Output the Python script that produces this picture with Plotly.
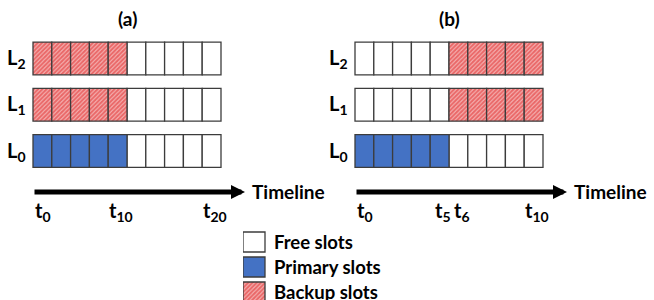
import plotly.graph_objects as go

# ---------------- data ----------------
levels = ["L0", "L1", "L2"]
level_labels = ["L<sub>0</sub>", "L<sub>1</sub>", "L<sub>2</sub>"]

# slot types per level, left to right (10 slots each)
a_L0 = ["primary"] * 5 + ["free"] * 5
a_L1 = ["backup"] * 5 + ["free"] * 5
a_L2 = ["backup"] * 5 + ["free"] * 5
b_L0 = ["primary"] * 5 + ["free"] * 5
b_L1 = ["free"] * 5 + ["backup"] * 5
b_L2 = ["free"] * 5 + ["backup"] * 5

a_slot_len = 2   # time units per slot, panel (a)
b_slot_len = 1   # time units per slot, panel (b)

a_ticks = [0, 10, 20]
a_ticktext = ["t<sub>0</sub>", "t<sub>10</sub>", "t<sub>20</sub>"]
b_ticks = [0, 5, 6, 10]
b_ticktext = ["t<sub>0</sub>", "t<sub>5</sub>", "t<sub>6</sub>", "t<sub>10</sub>"]

panel_titles = ["(a)", "(b)"]
legend_names = ["Free slots", "Primary slots", "Backup slots"]
legend_types = ["free", "primary", "backup"]

# ---------------- styles ----------------
FONT = "Lato"
EDGE = dict(color="#3c3c3c", width=1.3)
STYLE = {
    "free": dict(color="#ffffff"),
    "primary": dict(color="#4472C4"),
    "backup": dict(color="#f4b4b4",
                   pattern=dict(shape="/", fgcolor="#df1a1a", bgcolor="#f4b4b4",
                                size=3, solidity=0.65)),
}

fig = go.Figure()

W, H = 654, 300

def add_panel(rows, slot_len, xa, ya):
    for stype in ["free", "primary", "backup"]:
        ys, xs, bases = [], [], []
        for lv, row in zip(levels, rows):
            for i, s in enumerate(row):
                if s == stype:
                    ys.append(levels.index(lv))
                    xs.append(slot_len)
                    bases.append(i * slot_len)
        if ys:
            fig.add_trace(go.Bar(
                orientation="h", y=ys, x=xs, base=bases, width=0.71,
                marker=dict(**STYLE[stype], line=EDGE),
                xaxis=xa, yaxis=ya, showlegend=False, hoverinfo="skip"))

add_panel([a_L0, a_L1, a_L2], a_slot_len, "x", "y")
add_panel([b_L0, b_L1, b_L2], b_slot_len, "x2", "y2")

# legend swatches
for i, t in enumerate(legend_types):
    fig.add_trace(go.Bar(
        orientation="h", y=[i], x=[1], base=[0], width=0.8,
        marker=dict(**STYLE[t], line=EDGE),
        xaxis="x3", yaxis="y3", showlegend=False, hoverinfo="skip"))

# axes geometry: y value v -> pixel 151 - 46.25 v
yr = [-149 / 46.25, 151 / 46.25]
a_scale = 188 / (10 * a_slot_len)
b_scale = 188 / (10 * b_slot_len)
xa_range = [-33 / a_scale, (327 - 33) / a_scale]
xb_range = [-(355 - 327) / b_scale, (654 - 355) / b_scale]

hidden = dict(visible=False, showgrid=False, zeroline=False, fixedrange=True)
fig.update_layout(
    width=W, height=H, margin=dict(l=0, r=0, t=0, b=0),
    paper_bgcolor="white", plot_bgcolor="rgba(0,0,0,0)",
    barmode="overlay", showlegend=False,
    xaxis=dict(domain=[0, 327 / W], range=xa_range, anchor="y", **hidden),
    yaxis=dict(domain=[0, 1], range=yr, anchor="x", **hidden),
    xaxis2=dict(domain=[327 / W, 1], range=xb_range, anchor="y2", **hidden),
    yaxis2=dict(domain=[0, 1], range=yr, anchor="x2", **hidden),
    xaxis3=dict(domain=[243 / W, 463 / W], range=[0, 10], anchor="y3", **hidden),
    yaxis3=dict(domain=[0, 80 / H], range=[2.32, -0.88], anchor="x3", **hidden),
    font=dict(family=FONT, color="black"),
)

ann = []
bold = dict(family=FONT, weight="bold", color="black")
arrow_y = (151 - 192) / 46.25
tick_y = (151 - 211) / 46.25
title_y = (151 - 18) / 46.25

for xa, ya, scale, ticks, ttext, title in [
    ("x", "y", a_scale, a_ticks, a_ticktext, panel_titles[0]),
    ("x2", "y2", b_scale, b_ticks, b_ticktext, panel_titles[1]),
]:
    xmax = 188 / scale
    ann.append(dict(x=xmax / 2, y=title_y, xref=xa, yref=ya, text=title,
                    showarrow=False, font=dict(size=19, **bold)))
    for i, lab in enumerate(level_labels):
        ann.append(dict(x=0, y=i, xref=xa, yref=ya, text=lab, showarrow=False,
                        xanchor="right", xshift=-5, font=dict(size=20, **bold)))
    tip = 212 / scale
    ann.append(dict(x=tip, y=arrow_y, ax=0, ay=arrow_y, xref=xa, yref=ya,
                    axref=xa, ayref=ya, text="", showarrow=True, arrowhead=2,
                    arrowwidth=5, arrowsize=0.56, arrowcolor="black", standoff=0))
    ann.append(dict(x=tip, y=arrow_y, xref=xa, yref=ya, text="Timeline",
                    showarrow=False, xanchor="left", xshift=5, yshift=1,
                    font=dict(size=19, **bold)))
    for tv, tt in zip(ticks, ttext):
        if tv == 0:
            ann.append(dict(x=tv, y=tick_y, xref=xa, yref=ya, text=tt, showarrow=False,
                            xanchor="left", font=dict(size=20, **bold)))
        else:
            ann.append(dict(x=tv, y=tick_y, xref=xa, yref=ya, text=tt, showarrow=False,
                            xanchor="center", xshift=-6, font=dict(size=20, **bold)))

for i, name in enumerate(legend_names):
    ann.append(dict(x=1.32, y=i, xref="x3", yref="y3", text=name, showarrow=False,
                    xanchor="left", font=dict(size=18.5, **bold)))

fig.update_layout(annotations=ann)
fig.write_html("out.html", config={"displayModeBar": False},
               post_script="document.body.style.margin='0';")
